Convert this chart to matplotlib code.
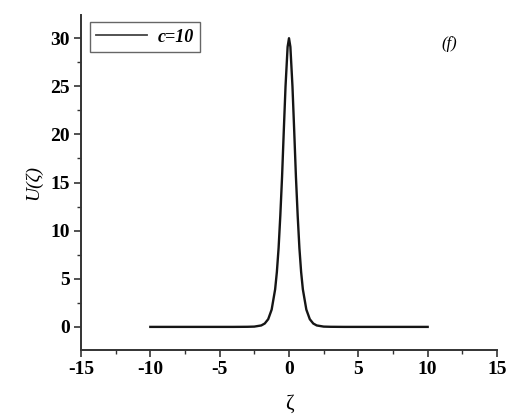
import matplotlib
matplotlib.use("Agg")
import matplotlib.pyplot as plt
from matplotlib.ticker import MultipleLocator

# values (c = 10)
zeta = [-10.0, -4.0, -3.0, -2.5, -2.0, -1.75, -1.5, -1.25, -1.0, -0.875,
        -0.75, -0.625, -0.5, -0.375, -0.25, -0.1, 0.0,
        0.1, 0.25, 0.375, 0.5, 0.625, 0.75, 0.875, 1.0,
        1.25, 1.5, 1.75, 2.0, 2.5, 3.0, 4.0, 10.0]
u_vals = [0.0, 0.0, 0.01, 0.03, 0.15, 0.35, 0.8, 1.8, 3.9, 5.7,
          8.2, 11.6, 15.6, 20.4, 25.0, 29.1, 30.0,
          29.1, 25.0, 20.4, 15.6, 11.6, 8.2, 5.7, 3.9,
          1.8, 0.8, 0.35, 0.15, 0.03, 0.01, 0.0, 0.0]
series_label = "c=10"
panel_tag = "(f)"

plt.rcParams.update({
    "font.family": ["Liberation Serif", "DejaVu Serif"],
    "axes.unicode_minus": False,
})

fig = plt.figure(figsize=(5.11, 4.2), dpi=100)
ax = fig.add_axes([0.1585, 0.1667, 0.8141, 0.7973])

ax.plot(zeta, u_vals, color="#151515", linewidth=1.7, label=series_label)

ax.set_xlim(-15, 15)
ax.set_ylim(-2.4, 32.4)
ax.xaxis.set_major_locator(MultipleLocator(5))
ax.xaxis.set_minor_locator(MultipleLocator(2.5))
ax.yaxis.set_major_locator(MultipleLocator(5))
ax.yaxis.set_minor_locator(MultipleLocator(2.5))

for side in ("top", "right"):
    ax.spines[side].set_visible(False)
for side in ("left", "bottom"):
    ax.spines[side].set_linewidth(1.4)
    ax.spines[side].set_color("#333333")

ax.tick_params(which="major", direction="out", length=5, width=1.2,
               color="#333333", labelsize=14, pad=3)
ax.tick_params(which="minor", direction="out", length=3, width=1.0,
               color="#333333")
for lbl in ax.get_xticklabels() + ax.get_yticklabels():
    lbl.set_fontweight("bold")

ax.set_xlabel("ζ", fontsize=15, labelpad=12)
ax.set_ylabel("U(ζ)", fontsize=14, style="italic", labelpad=6)

leg = ax.legend(loc="upper left", bbox_to_anchor=(0.0, 1.005), fancybox=False,
                edgecolor="#666666", framealpha=1, handlelength=2.8,
                handletextpad=0.6, borderpad=0.35,
                prop={"size": 13, "style": "italic", "weight": "bold"})
leg.get_frame().set_linewidth(1.0)
leg.get_lines()[0].set_color("#444444")
leg.get_lines()[0].set_linewidth(1.3)

ax.text(0.885, 0.915, panel_tag, transform=ax.transAxes, fontsize=12,
        style="italic", ha="center", va="center")

fig.savefig("out.png", dpi=100)
